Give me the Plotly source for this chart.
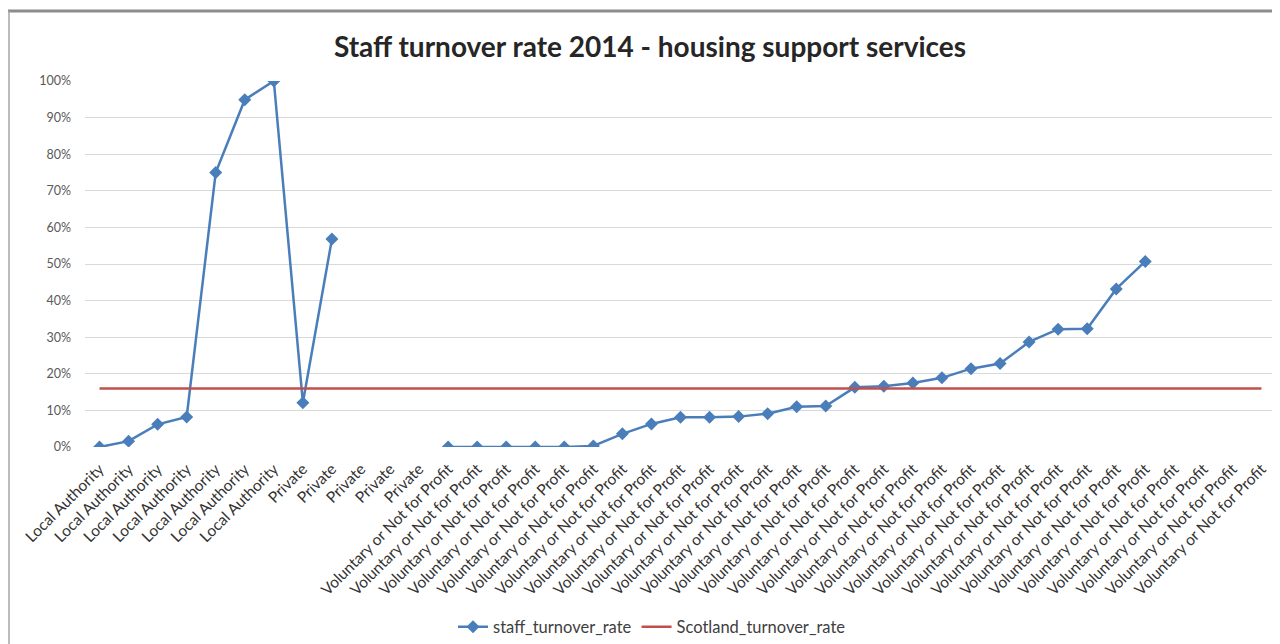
import plotly.graph_objects as go

# ── data ─────────────────────────────────────────────────────────────────
SECTORS = (
    ["Local Authority"] * 7
    + ["Private"] * 5
    + ["Voluntary or Not for Profit"] * 29
)

LA_RATE = [0.0, 0.016, 0.062, 0.082, 0.75, 0.949, 1.0]
PRIVATE_RATE = [0.121, 0.568, None, None, None]
VOLUNTARY_RATE = [
    0.0, 0.0, 0.0, 0.0, 0.0, 0.003, 0.036, 0.063, 0.081, 0.081,
    0.083, 0.091, 0.110, 0.112, 0.163, 0.166, 0.175, 0.189, 0.214, 0.228,
    0.287, 0.322, 0.323, 0.432, 0.507, None, None, None, None,
]
SCOTLAND_RATE = 0.16

Y_TICKS = [0, 0.1, 0.2, 0.3, 0.4, 0.5, 0.6, 0.7, 0.8, 0.9, 1.0]

staff_rate = LA_RATE + PRIVATE_RATE + VOLUNTARY_RATE
x_idx = list(range(len(SECTORS)))

BLUE = "#4a7ebb"
RED = "#c0504d"
FONT = "Lato, 'Open Sans', sans-serif"

# page has an 8px body margin, so the figure itself is 8px smaller
W, H = 1272, 636
L, R, T, B = 77, 4, 73, 197
PW, PH = W - L - R, H - T - B

fig = go.Figure()
fig.add_trace(
    go.Scatter(
        x=x_idx,
        y=staff_rate,
        name="staff_turnover_rate",
        mode="lines+markers",
        line=dict(color=BLUE, width=2.5),
        marker=dict(symbol="diamond", size=10, color=BLUE),
        connectgaps=False,
    )
)
fig.add_trace(
    go.Scatter(
        x=x_idx,
        y=[SCOTLAND_RATE] * len(SECTORS),
        name="Scotland_turnover_rate",
        mode="lines",
        line=dict(color=RED, width=2.5),
    )
)

fig.update_layout(
    width=W,
    height=H,
    paper_bgcolor="white",
    plot_bgcolor="white",
    margin=dict(l=L, r=R, t=T, b=B, autoexpand=False),
    font=dict(family=FONT, color="#595959", size=11),
    title=dict(
        text="<b>Staff turnover rate 2014 - housing support services</b>",
        x=642 / W,
        xanchor="center",
        y=1 - 39 / H,
        yanchor="middle",
        font=dict(family=FONT, size=28, color="#262626"),
    ),
    showlegend=True,
    legend=dict(
        orientation="h",
        x=(644 - L) / PW,
        xanchor="center",
        y=-180 / PH,
        yanchor="middle",
        font=dict(size=16.5, color="#404040"),
        itemwidth=30,
    ),
    xaxis=dict(
        range=[-0.5, len(SECTORS) - 0.5],
        tickmode="array",
        tickvals=x_idx,
        ticktext=SECTORS,
        tickangle=-45,
        ticklabelstandoff=9,
        showgrid=False,
        zeroline=False,
        showline=False,
        automargin=False,
        tickfont=dict(size=15.5, color="#333333"),
    ),
    yaxis=dict(
        range=[0, 1.0],
        tickvals=Y_TICKS,
        tickformat=".0%",
        ticklabelstandoff=13,
        showgrid=True,
        gridcolor="#d9d9d9",
        gridwidth=1,
        zeroline=False,
        showline=False,
        automargin=False,
        tickfont=dict(size=12.5, color="#595959"),
    ),
    shapes=[
        # outer chart frame, as in the cropped Excel export
        dict(
            type="line", xref="paper", yref="paper",
            x0=-L / PW, x1=1 + R / PW, y0=1 + (T - 3) / PH, y1=1 + (T - 3) / PH,
            line=dict(color="#8c8c8c", width=3),
        ),
        dict(
            type="line", xref="paper", yref="paper",
            x0=(1 - L) / PW, x1=(1 - L) / PW, y0=1 + (T - 3) / PH, y1=-B / PH,
            line=dict(color="#a6a6a6", width=1.5),
        ),
    ],
)

fig.write_html("out.html")
